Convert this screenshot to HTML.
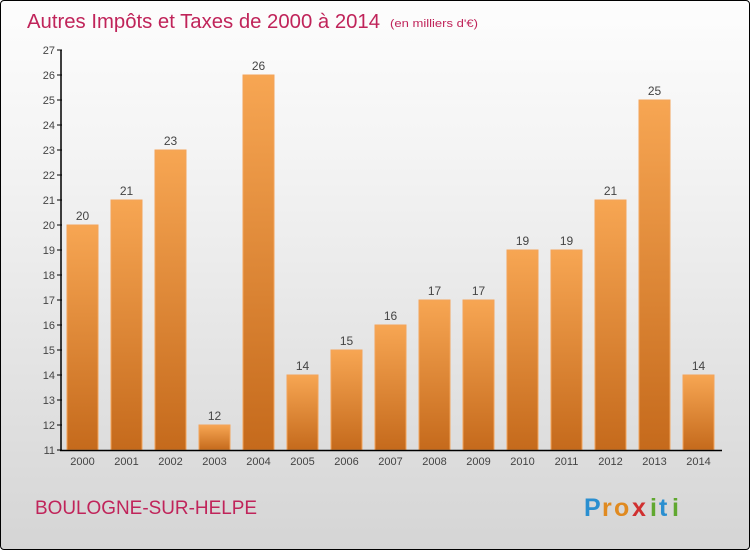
<!DOCTYPE html>
<html><head><meta charset="utf-8"><style>
body{margin:0;width:750px;height:550px;overflow:hidden;font-family:"Liberation Sans",sans-serif}
#wrap{position:absolute;left:0;top:0;width:748px;height:548px;border:1px solid #000;border-radius:4px;background:linear-gradient(#fdfdfd,#f3f3f3 30%,#d5d5d5)}
</style></head><body>
<div id="wrap">
<svg width="750" height="550" style="position:absolute;left:-1px;top:-1px" id="svg">
<defs>
<linearGradient id="bg" x1="0" y1="0" x2="0" y2="1"><stop offset="0" stop-color="#f7a653"/><stop offset="1" stop-color="#c56a1c"/></linearGradient>
</defs>
<text x="27" y="28" font-size="20" fill="#c0245a" textLength="353" lengthAdjust="spacingAndGlyphs">Autres Impôts et Taxes de 2000 à 2014</text>
<text x="390" y="27" font-size="11" fill="#c0245a" textLength="88" lengthAdjust="spacingAndGlyphs">(en milliers d'€)</text>
<text x="35" y="514" font-size="19" fill="#c0245a" textLength="222" lengthAdjust="spacingAndGlyphs">BOULOGNE-SUR-HELPE</text>
<g font-size="25" font-weight="bold">
<text x="584" y="516" fill="#2a8fd0">P</text><text x="602" y="516" fill="#e08a20">r</text><text x="614" y="516" fill="#e08a20">o</text><text x="632" y="516" fill="#d03030">x</text><text x="650" y="516" fill="#60a830">i</text><text x="659" y="516" fill="#2a8fd0">t</text><text x="672" y="516" fill="#60a830">i</text>
</g>
<g id="g"></g>
</svg>
</div>
<script>
const years=["2000","2001","2002","2003","2004","2005","2006","2007","2008","2009","2010","2011","2012","2013","2014"];
const values=[20,21,23,12,26,14,15,16,17,17,19,19,21,25,14];
const ticks=[11,12,13,14,15,16,17,18,19,20,21,22,23,24,25,26,27];
const NS="http://www.w3.org/2000/svg",g=document.getElementById('g');
const y=v=>450-(v-11)*25, x=i=>62+i*44;
function el(t,a){const e=document.createElementNS(NS,t);for(const k in a)e.setAttribute(k,a[k]);g.appendChild(e);return e;}
values.forEach((v,i)=>{
 const r=el('rect',{x:x(i)+5,y:y(v),width:31,height:450-y(v),fill:'url(#bg)',stroke:'#f3a45a','stroke-width':1});
 
 
 const t=el('text',{x:x(i)+20.5,y:y(v)-5,'font-size':12,fill:'#444','text-anchor':'middle'});t.textContent=v;
 
 
 const l=el('text',{x:x(i)+20.5,y:465,'font-size':11,fill:'#444','text-anchor':'middle'});l.textContent=years[i];
 
 
});
ticks.forEach(v=>{
 el('line',{x1:57,x2:62,y1:y(v),y2:y(v),stroke:'#000'});
 const t=el('text',{x:55,y:y(v)+4,'font-size':11,fill:'#444','text-anchor':'end'});t.textContent=v;
 
 
});
const ya=el('line',{x1:61,x2:61,y1:y(27),y2:451,stroke:'#000','stroke-width':1.5});


const xa=el('line',{x1:60,x2:722,y1:450.5,y2:450.5,stroke:'#000','stroke-width':1.5});


</script>
</body></html>
